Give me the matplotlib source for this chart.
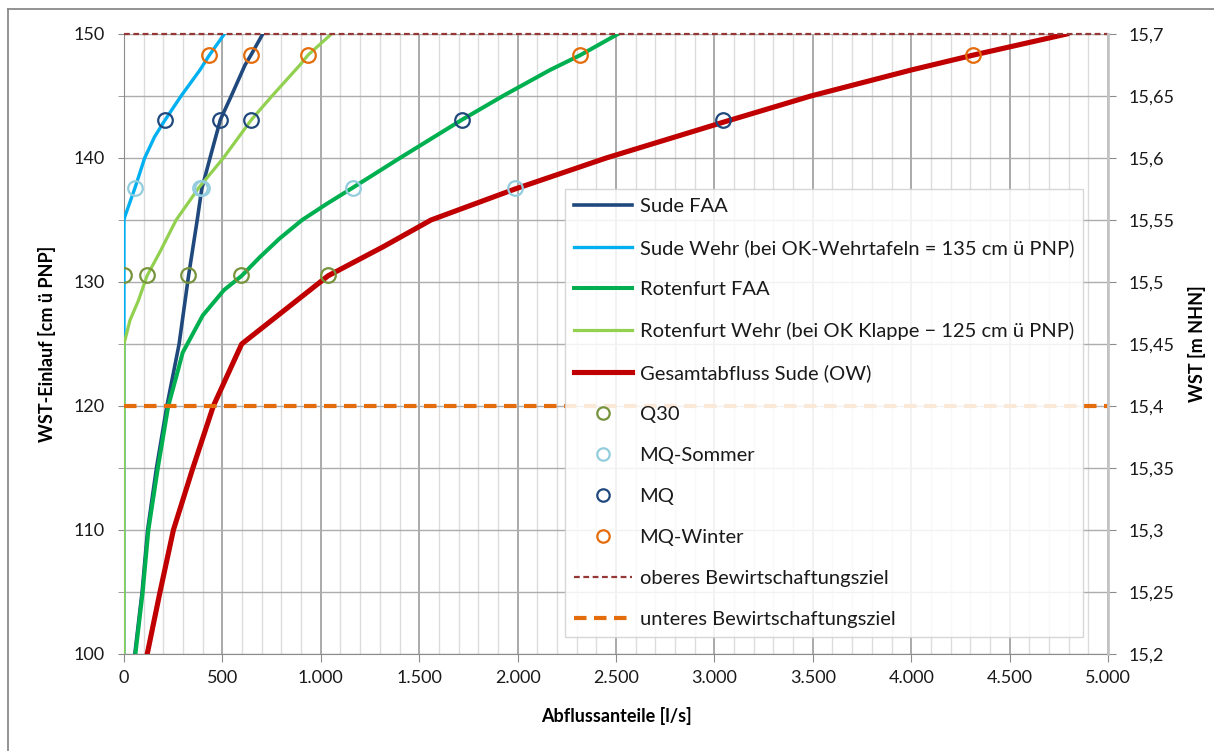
import matplotlib
matplotlib.use("Agg")
import matplotlib.pyplot as plt
from matplotlib.ticker import FuncFormatter, MultipleLocator
from matplotlib.lines import Line2D

plt.rcParams['font.family'] = ['Lato', 'DejaVu Sans']

# ---------------- data ----------------
sude_faa_q = [55, 92, 120, 165, 218, 280, 328, 372, 395, 437, 490, 545, 615, 645, 705]
sude_faa_h = [100, 105, 110, 115, 120, 125, 130.5, 135, 137.5, 140, 143.1, 145, 147.5, 148.3, 150]

sude_wehr_q = [0, 0, 5, 56, 105, 155, 210, 290, 386, 434, 510]
sude_wehr_h = [100, 135, 135.3, 137.6, 140, 141.7, 143.1, 145, 147.1, 148.3, 150]

rot_faa_q = [58, 95, 124, 172, 225, 268, 298, 400, 508, 598, 690, 790, 905, 1030, 1162, 1402, 1719, 1925, 2165, 2319, 2510]
rot_faa_h = [100, 105, 110, 115, 120, 122.5, 124.3, 127.3, 129.35, 130.5, 132, 133.5, 135, 136.3, 137.6, 140, 143.1, 145, 147.1, 148.3, 150]

rot_wehr_q = [0, 0, 30, 73, 117, 185, 265, 380, 505, 648, 752, 894, 935, 1047]
rot_wehr_h = [100, 125, 126.9, 128.5, 130.5, 132.5, 135, 137.6, 140, 143.1, 145, 147.5, 148.3, 149.9]

gesamt_q = [118, 183, 251, 350, 454, 598, 1037, 1318, 1560, 1987, 2450, 3048, 3490, 4001, 4316, 4790]
gesamt_h = [100, 105, 110, 115, 120, 125, 130.5, 132.85, 135, 137.5, 140, 142.9, 145, 147.1, 148.3, 150]

q30_q = [0, 117, 325, 595, 1037]
q30_h = [130.55, 130.55, 130.55, 130.55, 130.55]
mq_sommer_q = [56, 385, 398, 1162, 1987]
mq_sommer_h = [137.6, 137.6, 137.6, 137.6, 137.6]
mq_q = [208, 490, 645, 1719, 3046]
mq_h = [143.05, 143.05, 143.05, 143.05, 143.05]
mq_winter_q = [432, 645, 935, 2318, 4315]
mq_winter_h = [148.3, 148.3, 148.3, 148.3, 148.3]

oberes_q = [0, 5000]
oberes_h = [150, 150]
unteres_q = [0, 5000]
unteres_h = [120, 120]

x_ticks = [0, 500, 1000, 1500, 2000, 2500, 3000, 3500, 4000, 4500, 5000]
y_ticks = [100, 110, 120, 130, 140, 150]

# ---------------- figure ----------------
W, H = 1214, 751
fig = plt.figure(figsize=(W / 100, H / 100), dpi=100)
L, R, T, B = 124, 1108, 34, 654
ax = fig.add_axes([L / W, (H - B) / H, (R - L) / W, (B - T) / H])

ax.set_xlim(0, 5000)
ax.set_ylim(100, 150)

# grid
ax.set_xticks(x_ticks)
ax.xaxis.set_minor_locator(MultipleLocator(100))
ax.set_yticks(y_ticks)
ax.yaxis.set_minor_locator(MultipleLocator(5))
ax.grid(which='minor', axis='x', color='#DCDCDC', lw=1.0, zorder=0)
ax.grid(which='major', axis='x', color='#A4A4A4', lw=1.3, zorder=0)
ax.grid(which='both', axis='y', color='#ADADAD', lw=1.0, zorder=0)
ax.set_axisbelow(True)

# series
ax.plot(sude_faa_q, sude_faa_h, color='#1F497D', lw=2.6, label='Sude FAA', zorder=3)
ax.plot(sude_wehr_q, sude_wehr_h, color='#00B0F0', lw=2.4,
        label='Sude Wehr (bei OK-Wehrtafeln = 135 cm ü PNP)', zorder=3)
ax.plot(rot_faa_q, rot_faa_h, color='#00B050', lw=2.9, label='Rotenfurt FAA', zorder=3)
ax.plot(rot_wehr_q, rot_wehr_h, color='#92D050', lw=2.3,
        label='Rotenfurt Wehr (bei OK Klappe − 125 cm ü PNP)', zorder=3)
ax.plot(gesamt_q, gesamt_h, color='#C00000', lw=3.7, label='Gesamtabfluss Sude (OW)', zorder=3)

mk = dict(ls='none', marker='o', markersize=10.5, mfc='none', mew=1.6, zorder=4)
ax.plot(q30_q, q30_h, mec='#77933C', label='Q30', **mk)
ax.plot(mq_sommer_q, mq_sommer_h, mec='#93CDDD', label='MQ-Sommer', **mk)
ax.plot(mq_q, mq_h, mec='#1F497D', label='MQ', **mk)
ax.plot(mq_winter_q, mq_winter_h, mec='#E46C0A', label='MQ-Winter', **mk)

ax.plot(oberes_q, oberes_h, color='#953735', lw=1.6, ls=(0, (2.6, 1.6)),
        label='oberes Bewirtschaftungsziel', zorder=5, clip_on=False)
ax.plot(unteres_q, unteres_h, color='#E46C0A', lw=3.0, ls=(0, (3.0, 1.8)),
        label='unteres Bewirtschaftungsziel', zorder=5)

# axes styling
for s in ['top', 'right']:
    ax.spines[s].set_visible(False)
ax.spines['left'].set_color('#8C8C8C')
ax.spines['bottom'].set_color('#8C8C8C')
ax.tick_params(axis='x', which='major', direction='out', length=5.5, color='#8C8C8C',
               labelsize=13, pad=6, labelcolor='#1a1a1a')
ax.tick_params(axis='x', which='minor', length=0)
ax.tick_params(axis='y', which='both', direction='out', length=4, color='#8C8C8C',
               labelsize=13, pad=10, labelcolor='#1a1a1a')
ax.xaxis.set_major_formatter(FuncFormatter(lambda v, p: f"{int(v):,}".replace(',', '.')))

ax.set_xlabel('Abflussanteile [l/s]', fontsize=13, fontweight='bold')
ax.xaxis.set_label_coords(0.5, -(716 - B) / (B - T), transform=ax.transAxes)
ax.xaxis.label.set_va('center')
ax.set_ylabel('WST-Einlauf [cm ü PNP]', fontsize=13, fontweight='bold')
ax.yaxis.set_label_coords((47 - L) / (R - L), 0.5)
ax.yaxis.label.set_va('center')

# right axis
ax2 = ax.twinx()
ax2.set_ylim(15.2, 15.7)
ax2.yaxis.set_major_locator(MultipleLocator(0.05))
ax2.yaxis.set_major_formatter(FuncFormatter(lambda v, p: (f"{v:.2f}".rstrip('0').rstrip('.')).replace('.', ',')))
for s in ['top', 'left', 'bottom']:
    ax2.spines[s].set_visible(False)
ax2.spines['right'].set_color('#C4C4C4')
ax2.spines['right'].set_linewidth(2.0)
ax2.tick_params(axis='y', direction='out', length=5.5, color='#8C8C8C', labelsize=13,
                pad=9, labelcolor='#1a1a1a')
ax2.set_ylabel('WST [m NHN]', fontsize=13, fontweight='bold')
ax2.yaxis.set_label_coords((1197 - L) / (R - L), 0.5)
ax2.yaxis.label.set_va('center')

# legend
handles, labels = ax.get_legend_handles_labels()
leg = ax2.legend(handles, labels, loc='upper left',
                 bbox_to_anchor=(565 / W, (H - 189) / H), bbox_transform=fig.transFigure,
                 fontsize=14.5, frameon=True, fancybox=False, framealpha=0.85,
                 edgecolor='#D0D0D0', handlelength=2.9, handletextpad=0.35,
                 labelspacing=1.19, borderpad=0.45, numpoints=1, markerscale=0.85,
                 borderaxespad=0)
leg.get_frame().set_linewidth(1.0)
for t in leg.get_texts():
    t.set_color('#1a1a1a')

# chart-area border (left and top visible)
fig.add_artist(Line2D([8 / W, 8 / W], [0, (H - 9) / H], transform=fig.transFigure,
                      color='#8A8A8A', lw=1.3))
fig.add_artist(Line2D([8 / W, 1], [(H - 9) / H, (H - 9) / H], transform=fig.transFigure,
                      color='#8A8A8A', lw=1.3))

fig.savefig('out.png', dpi=100)
